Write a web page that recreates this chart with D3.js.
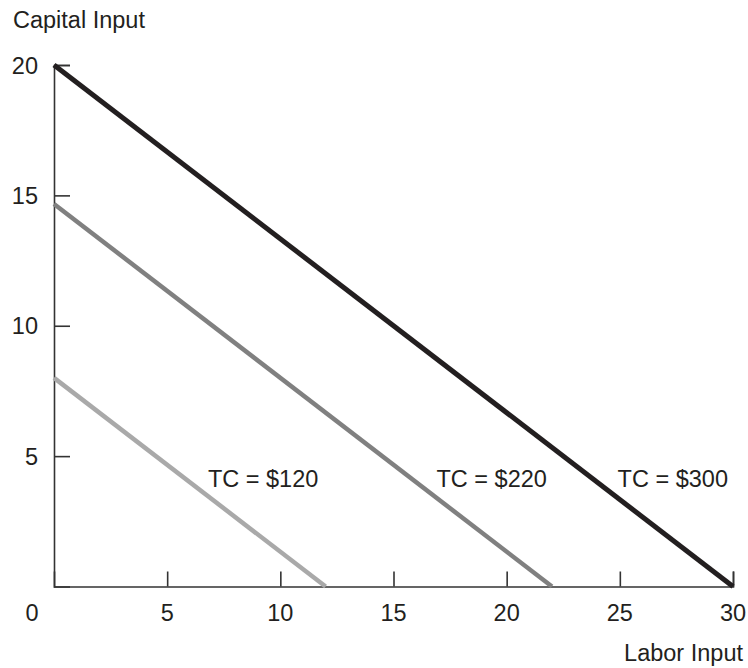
<!DOCTYPE html>
<html lang="en">

<head>
    <meta charset="UTF-8">
    <title>Isocost lines</title>
    <script src="https://d3js.org/d3.v7.min.js"></script>
    <style>
        body { margin: 0; background: #fff; }
        text { font-family: "Liberation Sans", Arial, sans-serif; fill: #231f20; }
    </style>
</head>

<body>
    <script>
        // isocost lines: wage = 10, rental = 15
        var costs = ["TC = $120", "TC = $220", "TC = $300"];
        var capitalMax = [8, 14.67, 20];
        var laborMax = [12, 22, 30];
        var lineColors = ["#a9a9a9", "#808080", "#231f20"];
        var labelX = [6.8, 16.9, 24.9];
        var labelY = [3.8, 3.8, 3.8];

        var xTicks = [5, 10, 15, 20, 25, 30];
        var yTicks = [5, 10, 15, 20];

        var fs = 23.5;
        var width = 748, height = 668;
        var svg = d3.select("body")
            .append("svg")
            .attr("width", width)
            .attr("height", height);

        var x = d3.scaleLinear()
            .domain([0, 30])
            .range([54, 733]);
        var y = d3.scaleLinear()
            .domain([0, 20])
            .range([586.5, 65]);

        // axes with inward ticks
        var xAxis = svg.append("g")
            .attr("transform", "translate(0," + y(0) + ")")
            .call(d3.axisBottom(x).tickValues(xTicks).tickSize(-15).tickFormat(""));
        var yAxis = svg.append("g")
            .attr("transform", "translate(" + x(0) + ",0)")
            .call(d3.axisLeft(y).tickValues(yTicks).tickSize(-16).tickFormat(""));
        [xAxis, yAxis].forEach(function (g) {
            g.select(".domain").attr("stroke", "#333").attr("stroke-width", 1.6);
            g.selectAll(".tick line").attr("stroke", "#333").attr("stroke-width", 1.6);
        });

        // tick labels
        svg.selectAll(".xlab")
            .data(xTicks)
            .enter()
            .append("text")
            .attr("x", function (d) { return x(d); })
            .attr("y", 621)
            .attr("text-anchor", "middle")
            .attr("font-size", fs)
            .text(function (d) { return d; });
        svg.append("text")
            .attr("x", 32)
            .attr("y", 621)
            .attr("text-anchor", "middle")
            .attr("font-size", fs)
            .text("0");
        svg.selectAll(".ylab")
            .data(yTicks)
            .enter()
            .append("text")
            .attr("x", 38)
            .attr("y", function (d) { return y(d) + 8.5; })
            .attr("text-anchor", "end")
            .attr("font-size", fs)
            .text(function (d) { return d; });

        // axis titles
        svg.append("text")
            .attr("x", 13)
            .attr("y", 28)
            .attr("font-size", fs)
            .text("Capital Input");
        svg.append("text")
            .attr("x", 743)
            .attr("y", 661)
            .attr("text-anchor", "end")
            .attr("font-size", fs)
            .text("Labor Input");

        // lines
        svg.selectAll(".iso")
            .data(costs)
            .enter()
            .append("line")
            .attr("x1", x(0))
            .attr("y1", function (d, i) { return y(capitalMax[i]); })
            .attr("x2", function (d, i) { return x(laborMax[i]); })
            .attr("y2", y(0))
            .attr("stroke", function (d, i) { return lineColors[i]; })
            .attr("stroke-width", function (d, i) { return i == 2 ? 5 : 4.5; });

        svg.selectAll(".tc")
            .data(costs)
            .enter()
            .append("text")
            .attr("x", function (d, i) { return x(labelX[i]); })
            .attr("y", function (d, i) { return y(labelY[i]); })
            .attr("font-size", fs)
            .text(function (d) { return d; });
    </script>
</body>

</html>
